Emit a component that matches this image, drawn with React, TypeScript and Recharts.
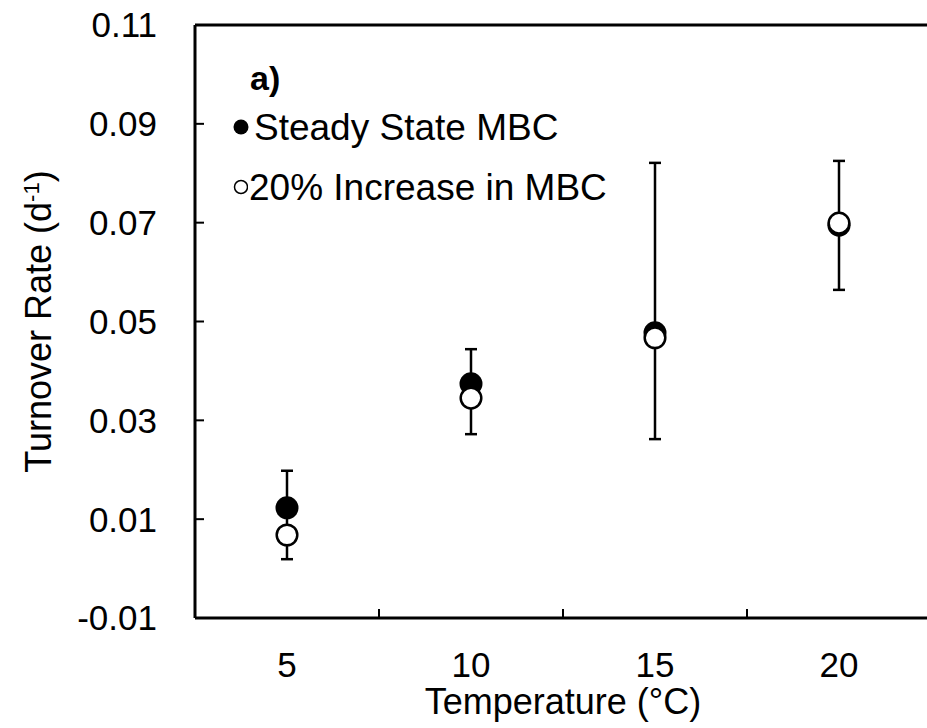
import { ScatterChart, Scatter, XAxis, YAxis, ErrorBar, ReferenceLine, Label } from "recharts";

const temps = [5, 10, 15, 20];
const steadyState = [0.0123, 0.0374, 0.0477, 0.0695];
const increase20 = [0.0068, 0.0345, 0.0467, 0.0699];
const barLow = [0.0019, 0.0272, 0.0262, 0.0564];
const barHigh = [0.0198, 0.0444, 0.0821, 0.0825];
const yTicks = [-0.01, 0.01, 0.03, 0.05, 0.07, 0.09, 0.11];
const xTicks = [5, 10, 15, 20];
const xBoundaries = [7.5, 12.5, 17.5];

const font = "'Liberation Sans', Arial, sans-serif";

const steadyData = temps.map((t, i) => ({
  temp: t,
  rate: steadyState[i],
  err: [steadyState[i] - barLow[i], barHigh[i] - steadyState[i]]
}));
const increaseData = temps.map((t, i) => ({ temp: t, rate: increase20[i] }));

const FilledDot = (p: any) => <circle cx={p.cx} cy={p.cy} r={11.5} fill="#000" />;
const OpenDot = (p: any) => <circle cx={p.cx} cy={p.cy} r={10.3} fill="#fff" stroke="#000" strokeWidth={2.5} />;
const NoLabel = () => <g />;

function YTitle({ viewBox }: any) {
  const cy = viewBox.y + viewBox.height / 2;
  return (
    <text transform={`translate(${viewBox.x + 51}, ${cy}) rotate(-90)`} textAnchor="middle" fontSize={36} fontFamily={font} fill="#000">
      Turnover Rate (d
      <tspan dy={-12} fontSize={22}>-1</tspan>
      <tspan dy={12}>)</tspan>
    </text>
  );
}

function XTitle({ viewBox }: any) {
  return (
    <text x={viewBox.x + viewBox.width / 2} y={viewBox.y + 96} textAnchor="middle" fontSize={36} fontFamily={font} fill="#000">
      Temperature (°C)
    </text>
  );
}

export default function App() {
  const tickStyle = { fontSize: 35, fill: "#000", fontFamily: font };
  return (
    <div style={{ position: "absolute", left: 0, top: 0, width: 927, height: 728, overflow: "hidden", background: "#fff" }}>
      <ScatterChart width={940} height={728} margin={{ top: 25, right: 9, bottom: 0, left: 0 }}>
        <XAxis
          xAxisId="x"
          type="number"
          dataKey="temp"
          domain={[2.5, 22.5]}
          ticks={xTicks}
          height={110}
          tick={tickStyle}
          tickLine={false}
          tickSize={0}
          tickMargin={34}
          axisLine={{ stroke: "#000", strokeWidth: 3 }}
        >
          <Label content={XTitle} />
        </XAxis>
        <XAxis
          xAxisId="xt"
          type="number"
          dataKey="temp"
          domain={[2.5, 22.5]}
          ticks={xBoundaries}
          mirror
          height={1}
          tick={NoLabel}
          axisLine={false}
          tickLine={{ stroke: "#000", strokeWidth: 2 }}
          tickSize={9}
        />
        <YAxis
          yAxisId="y"
          type="number"
          dataKey="rate"
          domain={[-0.01, 0.11]}
          ticks={yTicks}
          tickFormatter={(v: number) => v.toFixed(2)}
          width={195}
          tick={tickStyle}
          tickLine={{ stroke: "#000", strokeWidth: 2 }}
          tickSize={-9}
          tickMargin={47}
          axisLine={{ stroke: "#000", strokeWidth: 3 }}
        >
          <Label content={YTitle} />
        </YAxis>
        <ReferenceLine xAxisId="x" yAxisId="y" y={0.11} stroke="#000" strokeWidth={3} />
        <Scatter
          name="Steady State MBC"
          xAxisId="x"
          yAxisId="y"
          data={steadyData}
          dataKey="rate"
          shape={FilledDot}
          isAnimationActive={false}
        >
          <ErrorBar dataKey="err" direction="y" width={6} stroke="#000" strokeWidth={2.5} />
        </Scatter>
        <Scatter
          name="20% Increase in MBC"
          xAxisId="xt"
          yAxisId="y"
          data={increaseData}
          dataKey="rate"
          shape={OpenDot}
          isAnimationActive={false}
        />
      </ScatterChart>
      <div style={{ position: "absolute", left: 232, top: 61, fontFamily: font, color: "#000", lineHeight: 1 }}>
        <div style={{ fontSize: 34, fontWeight: "bold", marginLeft: 18, height: 36 }}>a)</div>
        <div style={{ display: "flex", alignItems: "center", height: 60, fontSize: 37 }}>
          <svg width={20} height={20} style={{ marginRight: 2 }}>
            <circle cx={9} cy={10} r={7.5} fill="#000" />
          </svg>
          <span>Steady State MBC</span>
        </div>
        <div style={{ display: "flex", alignItems: "center", height: 60, fontSize: 37 }}>
          <svg width={16} height={20} style={{ marginRight: 1 }}>
            <circle cx={9} cy={10} r={6.5} fill="#fff" stroke="#000" strokeWidth={1.5} />
          </svg>
          <span>20% Increase in MBC</span>
        </div>
      </div>
    </div>
  );
}
